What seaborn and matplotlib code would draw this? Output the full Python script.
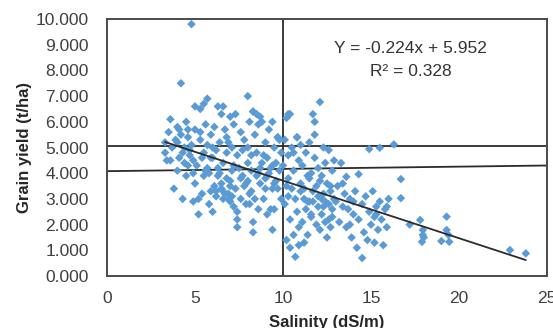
import matplotlib
matplotlib.use("Agg")
import matplotlib.pyplot as plt
import seaborn as sns
import numpy as np
import pandas as pd

# ---- data ----
salinity = [
    # 3-5
    3.3,3.3,3.4,3.5,3.6,3.7,3.8,3.9,4.0,4.0,4.1,4.2,4.2,4.3,4.3,4.4,4.5,4.5,4.6,4.6,4.7,4.8,4.8,4.9,4.9,5.0,5.0,5.0,4.1,4.4,4.7,3.6,4.0,4.9,4.6,
    # 5-7.5
    5.1,5.2,5.3,5.3,5.4,5.5,5.5,5.6,5.7,5.7,5.8,5.9,5.9,6.0,6.0,6.1,6.2,6.2,6.3,6.3,6.4,6.5,6.5,6.6,6.6,6.7,6.8,6.8,6.9,7.0,7.0,7.1,7.1,7.2,7.2,7.3,7.3,7.4,7.4,7.4,5.2,5.6,5.9,6.1,6.4,6.7,6.9,7.2,5.4,5.8,6.3,6.8,7.0,5.5,6.0,6.6,7.1,7.4,5.3,6.5,
    6.2,6.6,7.0,6.9,5.7,
    # 7.5-10
    7.5,7.6,7.6,7.7,7.8,7.8,7.9,8.0,8.0,8.1,8.1,8.2,8.2,8.3,8.3,8.3,8.4,8.5,8.5,8.6,8.6,8.7,8.8,8.8,8.9,9.0,9.0,9.1,9.1,9.2,9.3,9.3,9.4,9.4,9.5,9.5,9.6,9.7,9.7,9.8,9.9,9.9,7.7,8.0,8.4,8.7,9.0,9.2,9.6,7.9,8.2,8.9,9.4,9.8,8.1,8.5,8.7,9.4,9.7,8.3,
    7.6,8.0,8.6,9.1,9.5,
    # 10-13
    10.0,10.1,10.1,10.2,10.2,10.3,10.3,10.4,10.4,10.5,10.5,10.6,10.6,10.7,10.7,10.8,10.8,10.9,10.9,11.0,11.0,11.1,11.1,11.2,11.2,11.3,11.3,11.4,11.4,11.5,11.5,11.6,11.6,11.7,11.7,11.8,11.8,11.9,11.9,12.0,12.0,12.1,12.1,12.2,12.2,12.3,12.3,12.4,12.4,12.5,12.5,12.6,12.6,12.7,12.7,12.8,12.8,12.9,12.9,10.2,10.6,11.0,11.4,11.8,12.2,12.6,10.4,10.9,11.6,12.1,12.8,10.3,10.8,10.3,
    11.2,11.7,12.0,12.4,12.7,11.5,12.3,
    # 13-17
    13.0,13.1,13.2,13.3,13.4,13.5,13.6,13.6,13.7,13.8,13.9,14.0,14.1,14.2,14.3,14.3,14.5,14.6,14.7,14.8,14.9,14.9,15.0,15.1,15.2,15.3,15.4,15.5,15.5,15.6,15.7,15.8,15.9,16.0,16.3,16.7,16.7,13.4,14.0,15.2,14.5,13.8,
    15.9,15.3,
    # 17-24
    17.8,17.95,17.95,17.9,19.0,19.3,19.3,19.45,18.0,22.9,23.8,17.2,19.4,
]
grain_yield = [
    # 3-5
    5.2,4.8,4.5,5.6,6.1,5.0,3.4,5.3,4.1,5.8,4.6,7.5,5.5,3.0,4.8,5.0,3.9,6.0,5.4,4.3,4.7,9.8,5.1,2.9,4.5,6.6,5.7,3.6,5.7,4.4,4.9,4.5,5.2,4.0,5.7,
    # 5-7.5
    4.3,2.4,5.3,6.5,4.6,6.7,3.9,5.9,5.1,6.9,4.0,5.5,3.3,2.5,4.6,5.8,3.3,4.9,6.6,3.9,5.2,6.3,3.6,6.6,4.4,3.2,5.4,4.8,3.0,6.2,3.7,5.0,3.1,5.9,4.3,6.3,3.4,1.9,2.5,4.7,3.0,4.1,4.6,3.5,4.0,5.7,5.2,2.7,3.2,2.8,4.2,3.8,2.9,4.8,5.0,3.0,4.1,2.2,5.6,3.4,
    3.1,3.3,3.5,3.2,4.2,
    # 7.5-10
    4.2,5.6,3.0,4.9,3.5,5.3,2.8,7.0,4.4,2.8,6.0,4.7,3.3,6.4,2.1,1.7,5.5,3.9,4.8,2.6,5.9,3.6,4.4,6.0,3.0,5.2,3.8,4.6,2.4,5.7,2.6,4.2,3.4,1.8,5.0,2.6,4.4,3.4,5.4,4.1,3.0,4.8,3.9,5.0,3.0,4.2,3.4,4.0,3.7,3.6,4.1,4.7,4.3,5.3,3.2,6.3,6.2,6.0,5.4,6.4,
    3.8,3.7,4.0,3.9,3.6,
    # 10-13
    4.3,2.8,5.3,6.15,1.4,3.8,4.7,6.3,2.2,3.4,5.0,1.6,4.1,0.75,3.0,5.4,2.5,4.5,1.9,3.6,5.1,2.1,4.3,3.0,1.3,4.8,2.6,3.9,1.6,5.2,2.9,4.0,2.3,6.3,3.3,6.0,4.6,2.0,3.5,4.2,2.7,6.77,1.8,3.9,2.4,5.0,3.2,4.4,2.1,3.6,1.5,4.9,2.8,3.3,1.9,4.1,2.6,3.0,4.5,3.5,4.8,3.3,2.9,5.5,3.0,2.2,1.1,1.2,2.4,3.7,2.3,3.1,5.4,6.3,
    3.4,2.9,3.1,2.9,3.5,3.8,2.7,
    # 13-17
    2.9,3.5,2.1,4.4,2.7,3.2,3.86,1.9,2.6,3.0,1.5,2.4,3.3,1.1,3.96,2.2,2.8,1.7,3.1,1.4,4.94,2.5,2.0,3.3,1.3,2.7,1.8,4.99,2.9,2.2,1.2,2.6,1.9,3.0,5.12,3.77,3.03,3.6,2.9,2.3,0.7,2.0,
    2.7,2.4,
    # 17-24
    2.18,1.79,1.6,1.33,1.36,2.31,1.79,1.33,1.5,1.01,0.88,2.0,1.6,
]

slope, intercept, r2 = -0.224, 5.952, 0.328
ref_h_y = 5.05              # horizontal reference line
ref_tilt_y = [4.08, 4.30]   # slightly tilted reference line (at x=0 and x=25)
ref_v_x = 10                # vertical reference line
x_ticks = [0, 5, 10, 15, 20, 25]
y_ticks = [0, 1, 2, 3, 4, 5, 6, 7, 8, 9, 10]

df = pd.DataFrame({"Salinity": salinity, "Yield": grain_yield})

sns.set_theme(style="white")
plt.rcParams["font.family"] = ["Liberation Sans", "DejaVu Sans"]

fig = plt.figure(figsize=(5.53, 3.28), dpi=100)
ax = fig.add_axes([0.1935, 0.1585, 0.7955, 0.7835])

line_col = "#2b2b2b"
ax.axhline(ref_h_y, color=line_col, lw=1.3, zorder=1)
ax.axvline(ref_v_x, color=line_col, lw=1.3, zorder=1)
ax.plot([x_ticks[0], x_ticks[-1]], ref_tilt_y, color=line_col, lw=1.3, zorder=1)

sns.scatterplot(data=df, x="Salinity", y="Yield", ax=ax, marker="D", s=19,
                color="#5b9bd5", edgecolor="none", zorder=2)

xs = np.array([min(salinity), max(salinity)])
ax.plot(xs, slope * xs + intercept, color=line_col, lw=1.3, zorder=3)

ax.set_xlim(0, 25)
ax.set_ylim(0, 10)
ax.set_xticks(x_ticks)
ax.set_yticks(y_ticks)
ax.set_yticklabels([f"{v:.3f}" for v in y_ticks])
ax.tick_params(axis="both", labelsize=12.5, colors="#404040", length=3,
               width=1, direction="out")
ax.tick_params(axis="x", pad=8)
ax.tick_params(axis="y", pad=10)
ax.tick_params(axis="both", color="#bfbfbf")
for sp in ax.spines.values():
    sp.set_color("#4a4a4a")
    sp.set_linewidth(1.4)

ax.set_xlabel("Salinity (dS/m)", fontsize=12, fontweight="bold", color="#262626", labelpad=6)
ax.set_ylabel("Grain yield (t/ha)", fontsize=12, fontweight="bold", color="#262626", labelpad=3)

ax.text(0.69, 0.887, f"Y = {slope:.3f}x + {intercept:.3f}",
        transform=ax.transAxes, ha="center", va="center", fontsize=12.5, color="#333333")
ax.text(0.69, 0.797, f"R² = {r2:.3f}",
        transform=ax.transAxes, ha="center", va="center", fontsize=12.5, color="#333333")

fig.savefig("out.png", dpi=100)
